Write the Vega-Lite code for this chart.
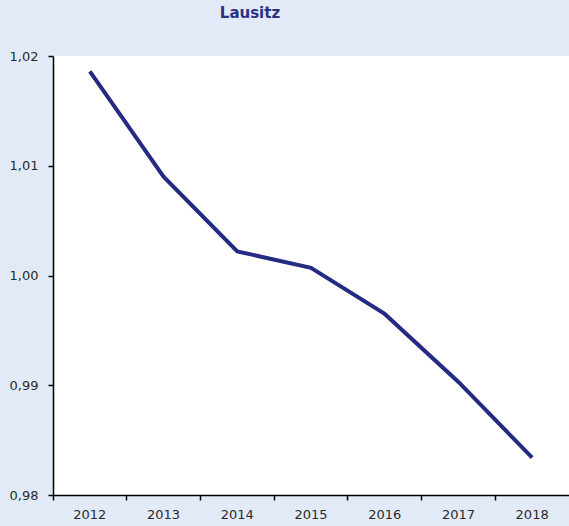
{
  "$schema": "https://vega.github.io/schema/vega-lite/v6.json",
  "autosize": "none",
  "width": 516,
  "height": 439,
  "padding": {"left": 53, "top": 56, "right": 0, "bottom": 31},
  "background": "#e3eaf7",
  "title": {
    "text": "Lausitz",
    "anchor": "middle",
    "dx": -61,
    "offset": 29,
    "fontSize": 15,
    "fontWeight": "bold",
    "color": "#2b2f86",
    "font": "DejaVu Sans"
  },
  "data": {
    "values": [
      {"year": "2012", "value": 1.0186},
      {"year": "2013", "value": 1.0090},
      {"year": "2014", "value": 1.0022},
      {"year": "2015", "value": 1.0007},
      {"year": "2016", "value": 0.9965},
      {"year": "2017", "value": 0.9903},
      {"year": "2018", "value": 0.9834}
    ]
  },
  "mark": {"type": "line", "color": "#252a82", "strokeWidth": 4},
  "encoding": {
    "x": {
      "field": "year",
      "type": "ordinal",
      "bandPosition": 0.5,
      "scale": {"type": "band", "paddingInner": 0, "paddingOuter": 0},
      "axis": {
        "title": null,
        "labelAngle": 0,
        "bandPosition": 0,
        "labelFontSize": 13,
        "labelPadding": 8,
        "labelColor": "#2a2a2a",
        "labelFont": "DejaVu Sans",
        "domainColor": "#000000",
        "domainWidth": 1.5,
        "tickColor": "#000000",
        "tickWidth": 1.5,
        "tickSize": 5,
        "grid": false
      }
    },
    "y": {
      "field": "value",
      "type": "quantitative",
      "scale": {"domain": [0.98, 1.02], "nice": false, "zero": false},
      "axis": {
        "title": null,
        "values": [0.98, 0.99, 1.0, 1.01, 1.02],
        "labelExpr": "replace(format(datum.value, '.2f'), '.', ',')",
        "labelFontSize": 13,
        "labelPadding": 10,
        "labelColor": "#2a2a2a",
        "labelFont": "DejaVu Sans",
        "domainColor": "#000000",
        "domainWidth": 1.5,
        "tickColor": "#000000",
        "tickWidth": 1.5,
        "tickSize": 5,
        "grid": false
      }
    }
  },
  "config": {
    "view": {"fill": "#ffffff", "stroke": null}
  }
}
